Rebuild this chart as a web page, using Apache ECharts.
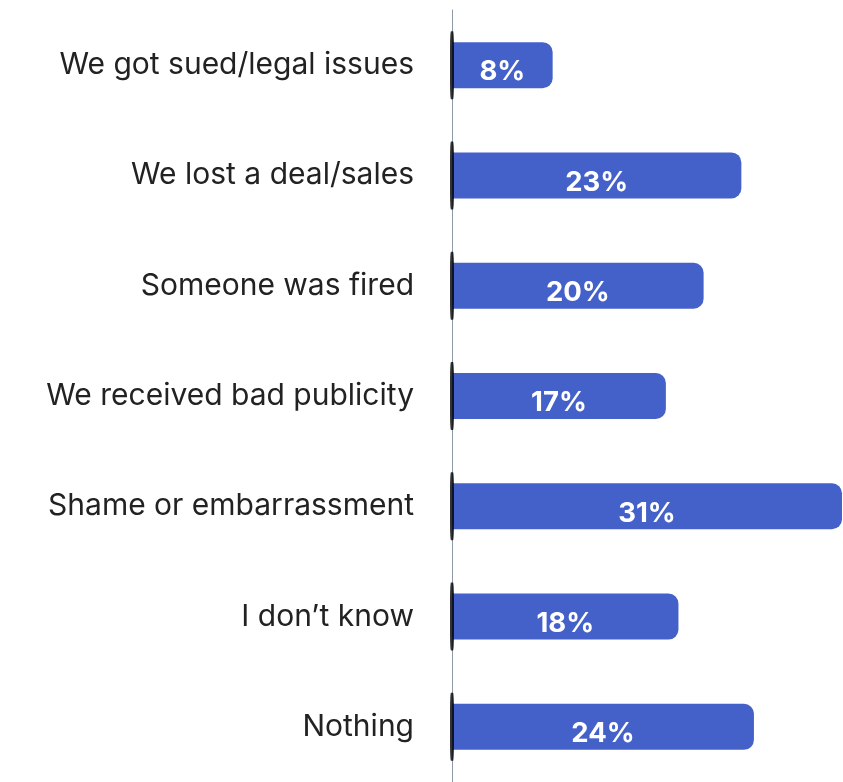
<!DOCTYPE html>
<html>
<head>
<meta charset="utf-8">
<script src="https://cdn.jsdelivr.net/npm/echarts@6/dist/echarts.min.js"></script>
<style>
  html, body { margin: 0; padding: 0; background: #ffffff; }
  #chart { width: 843px; height: 782px; }
</style>
</head>
<body>
<div id="chart"></div>
<script>
// Outcomes reported, share of respondents (%)
const categories = [
  'We got sued/legal issues',
  'We lost a deal/sales',
  'Someone was fired',
  'We received bad publicity',
  'Shame or embarrassment',
  'I don\u2019t know',
  'Nothing'
];
const values = [8, 23, 20, 17, 31, 18, 24];
const baselineMarks = categories.map(() => 0);

const chart = echarts.init(document.getElementById('chart'));
chart.setOption({
  animation: false,
  grid: { left: 452, right: 1, top: 10, bottom: 0 },
  xAxis: {
    type: 'value',
    min: 0,
    max: 31,
    show: false
  },
  yAxis: {
    type: 'category',
    data: categories,
    inverse: true,
    axisLine: { show: true, lineStyle: { color: '#8e9aa6', width: 1 } },
    axisTick: { show: false },
    axisLabel: {
      margin: 38,
      fontFamily: 'Inter',
      fontSize: 30,
      color: '#222222'
    }
  },
  series: [
    {
      type: 'bar',
      data: values,
      barWidth: 46,
      itemStyle: { color: '#4461c9', borderRadius: [0, 10, 10, 0] },
      label: {
        show: true,
        position: 'inside',
        offset: [0, 7],
        formatter: '{c}%',
        fontFamily: 'Inter',
        fontWeight: 'bold',
        fontSize: 27.5,
        color: '#ffffff'
      },
      z: 2
    },
    {
      type: 'scatter',
      data: baselineMarks,
      symbol: 'roundRect',
      symbolSize: [4, 68],
      itemStyle: { color: '#000000' },
      z: 3,
      silent: true
    }
  ]
});
</script>
</body>
</html>
